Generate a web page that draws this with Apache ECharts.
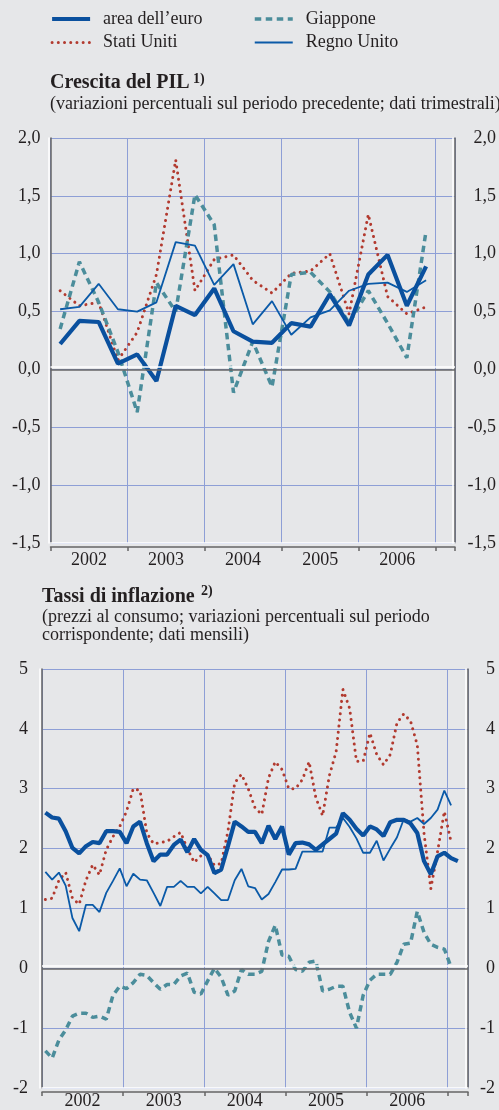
<!DOCTYPE html>
<html>
<head>
<meta charset="utf-8">
<script src="https://cdn.jsdelivr.net/npm/echarts@6/dist/echarts.min.js"></script>
<style>
html,body{margin:0;padding:0;background:#e6e7e9;}
#chart{width:499px;height:1110px;}
</style>
</head>
<body>
<div id="chart"></div>
<script>
var years = ['2002', '2003', '2004', '2005', '2006'];
var names = ['area dell\u2019euro', 'Stati Uniti', 'Giappone', 'Regno Unito'];

// crescita del PIL, dati trimestrali 2002T1 - 2006T4
var gdpEuro  = [0.22, 0.42, 0.41, 0.05, 0.13, -0.10, 0.55, 0.47, 0.70, 0.33, 0.24, 0.23, 0.40, 0.37, 0.65, 0.38, 0.82, 0.99, 0.55, 0.89];
var gdpUS    = [0.68, 0.55, 0.58, 0.08, 0.32, 0.82, 1.81, 0.68, 0.95, 0.99, 0.77, 0.66, 0.83, 0.85, 1.00, 0.48, 1.34, 0.63, 0.48, 0.54];
var gdpJapan = [0.35, 0.93, 0.58, 0.15, -0.37, 0.75, 0.50, 1.51, 1.25, -0.20, 0.24, -0.15, 0.82, 0.84, 0.67, 0.40, 0.68, 0.40, 0.10, 1.20];
var gdpUK    = [0.52, 0.54, 0.74, 0.52, 0.50, 0.58, 1.10, 1.07, 0.73, 0.91, 0.39, 0.59, 0.30, 0.45, 0.51, 0.68, 0.74, 0.75, 0.67, 0.77];

// inflazione, dati mensili da gen. 2002
var infEuro = [2.60, 2.52, 2.50, 2.29, 2.01, 1.92, 2.04, 2.11, 2.09, 2.29, 2.29, 2.28,
  2.09, 2.37, 2.45, 2.09, 1.79, 1.90, 1.90, 2.06, 2.15, 1.94, 2.16, 1.98,
  1.89, 1.59, 1.65, 2.04, 2.45, 2.37, 2.28, 2.28, 2.09, 2.38, 2.16, 2.37,
  1.90, 2.09, 2.10, 2.07, 1.98, 2.07, 2.16, 2.25, 2.59, 2.48, 2.33, 2.22,
  2.37, 2.32, 2.21, 2.44, 2.48, 2.48, 2.42, 2.26, 1.79, 1.57, 1.87, 1.93,
  1.84, 1.79];
var infUS = [1.15, 1.17, 1.47, 1.60, 1.17, 1.07, 1.47, 1.73, 1.56, 1.98, 2.20, 2.37,
  2.62, 3.00, 2.97, 2.26, 2.08, 2.10, 2.12, 2.20, 2.27, 2.00, 1.77, 1.88,
  1.90, 1.72, 1.75, 2.29, 3.10, 3.24, 3.00, 2.68, 2.57, 3.18, 3.45, 3.32,
  3.00, 3.00, 3.15, 3.45, 2.85, 2.55, 3.22, 3.62, 4.66, 4.34, 3.46, 3.46,
  3.93, 3.57, 3.40, 3.57, 4.10, 4.25, 4.13, 3.73, 2.25, 1.33, 1.95, 2.62,
  2.11];
var infJapan = [-1.38, -1.50, -1.20, -1.03, -0.80, -0.75, -0.75, -0.82, -0.80, -0.85, -0.45, -0.30,
  -0.34, -0.24, -0.10, -0.12, -0.24, -0.35, -0.27, -0.27, -0.13, -0.08, -0.40, -0.43,
  -0.21, 0.00, -0.15, -0.45, -0.38, -0.02, -0.10, -0.10, -0.05, 0.45, 0.72, 0.22,
  0.20, -0.02, -0.05, 0.10, 0.12, -0.38, -0.35, -0.30, -0.30, -0.74, -1.00, -0.45,
  -0.20, -0.10, -0.10, -0.10, 0.10, 0.40, 0.42, 0.95, 0.60, 0.40, 0.35, 0.32,
  0.02];
var infUK = [1.61, 1.48, 1.60, 1.38, 0.84, 0.62, 1.06, 1.06, 0.94, 1.26, 1.46, 1.67,
  1.37, 1.58, 1.48, 1.47, 1.26, 1.04, 1.36, 1.36, 1.46, 1.36, 1.36, 1.25,
  1.36, 1.25, 1.14, 1.14, 1.47, 1.66, 1.37, 1.34, 1.15, 1.24, 1.44, 1.65,
  1.65, 1.66, 1.95, 1.95, 1.95, 1.95, 2.35, 2.35, 2.51, 2.36, 2.17, 1.93,
  1.93, 2.13, 1.80, 2.00, 2.19, 2.49, 2.45, 2.51, 2.41, 2.51, 2.65, 2.97,
  2.72];

var FONT = '"Liberation Serif", "Times New Roman", serif';
var TXT = '#231f20';
var GRIDC = '#8e9fd6';
var AXC = '#666666';

var styles = [
  {color: '#0a509e', width: 4.2, type: 'solid'},
  {color: '#b23a2f', width: 3, type: [0.01, 6.2], cap: 'round'},
  {color: '#4b8d9b', width: 3.5, type: [6.5, 4.5]},
  {color: '#0a5aa8', width: 1.8, type: 'solid'}
];

// punto al centro del periodo
function pts(arr){
  return arr.map(function(v, i){ return [i + 0.5, v]; });
}

function line(idx, arr, g){
  return {
    name: names[idx], type: 'line', xAxisIndex: g * 2, yAxisIndex: g * 2,
    data: pts(arr), showSymbol: false, symbol: 'none',
    lineStyle: styles[idx], itemStyle: {color: styles[idx].color},
    z: 3
  };
}

function zeroLine(){
  return {
    silent: true, symbol: ['none', 'none'], label: {show: false},
    lineStyle: {color: AXC, width: 1.5, type: 'solid', shadowColor: '#ffffff', shadowOffsetY: -3},
    data: [{yAxis: 0}]
  };
}

function splitAxis(g, max, interval){
  return {
    type: 'value', gridIndex: g, min: 0, max: max, interval: interval, position: 'bottom',
    offset: 4,
    axisLine: {show: true, onZero: false, lineStyle: {color: AXC, width: 1.5, shadowColor: '#ffffff', shadowOffsetY: -4}},
    axisTick: {show: true, length: 4, lineStyle: {color: AXC, width: 1.5}},
    axisLabel: {show: false},
    splitLine: {show: true, lineStyle: {color: GRIDC, width: 1}}
  };
}

function labelAxis(g, max, step, margin){
  return {
    type: 'value', gridIndex: g, min: 0, max: max, interval: step / 2, position: 'bottom',
    axisLine: {show: false}, axisTick: {show: false}, splitLine: {show: false},
    axisLabel: {
      margin: margin, fontFamily: FONT, fontSize: 18, color: TXT,
      formatter: function(v){
        var k = (v - step / 2) / step;
        return (k >= 0 && k === Math.floor(k) && years[k]) ? years[k] : '';
      }
    }
  };
}

function yAx(g, pos, min, max, itv, margin, fmt){
  return {
    type: 'value', gridIndex: g, min: min, max: max, interval: itv, position: pos,
    axisLine: {show: true, onZero: false, lineStyle: {color: AXC, width: 1.5, shadowColor: '#ffffff', shadowOffsetX: -2}},
    axisTick: {show: false},
    axisLabel: {margin: margin, align: 'right', fontFamily: FONT, fontSize: 18, color: TXT, formatter: fmt},
    splitLine: {show: pos === 'left', lineStyle: {color: GRIDC, width: 1}}
  };
}

var fmtDec = function(v){ return v.toFixed(1).replace('.', ','); };
var fmtInt = function(v){ return String(Math.round(v)); };

var series = [
  line(1, gdpUS, 0), line(2, gdpJapan, 0), line(3, gdpUK, 0), line(0, gdpEuro, 0),
  line(1, infUS, 1), line(2, infJapan, 1), line(3, infUK, 1), line(0, infEuro, 1)
];
series[0].markLine = zeroLine();
series[4].markLine = zeroLine();

var legendText = {fontFamily: FONT, fontSize: 18, color: TXT, padding: [0, 0, 0, 8]};
function legend(idxs, left){
  return {
    data: idxs.map(function(i){ return {name: names[i], lineStyle: styles[i]}; }),
    orient: 'vertical', left: left, top: 10, padding: 0,
    itemWidth: 38, itemHeight: 12, itemGap: 5.5, selectedMode: false,
    itemStyle: {opacity: 0}, textStyle: legendText
  };
}

var option = {
  backgroundColor: '#e6e7e9',
  animation: false,
  legend: [legend([0, 1], 50), legend([2, 3], 253)],
  graphic: [
    {type: 'text', x: 50, y: 83, style: {text: 'Crescita del PIL', font: 'bold 20px ' + FONT, fill: TXT, verticalAlign: 'middle'}},
    {type: 'text', x: 193, y: 79, style: {text: '1)', font: 'bold 14px ' + FONT, fill: TXT, verticalAlign: 'middle'}},
    {type: 'text', x: 50, y: 104, style: {text: '(variazioni percentuali sul periodo precedente; dati trimestrali)', font: '18px ' + FONT, fill: TXT, verticalAlign: 'middle'}},
    {type: 'text', x: 42, y: 597, style: {text: 'Tassi di inflazione', font: 'bold 20px ' + FONT, fill: TXT, verticalAlign: 'middle'}},
    {type: 'text', x: 201, y: 591, style: {text: '2)', font: 'bold 14px ' + FONT, fill: TXT, verticalAlign: 'middle'}},
    {type: 'text', x: 42, y: 617, style: {text: '(prezzi al consumo; variazioni percentuali sul periodo', font: '18px ' + FONT, fill: TXT, verticalAlign: 'middle'}},
    {type: 'text', x: 42, y: 635, style: {text: 'corrispondente; dati mensili)', font: '18px ' + FONT, fill: TXT, verticalAlign: 'middle'}}
  ],
  grid: [
    {left: 50.5, top: 138, width: 407, height: 405},
    {left: 42, top: 669, width: 426, height: 420}
  ],
  xAxis: [
    splitAxis(0, 21, 4), labelAxis(0, 21, 4, 8),
    splitAxis(1, 63, 12), labelAxis(1, 63, 12, 4)
  ],
  yAxis: [
    yAx(0, 'left', -1.5, 2, 0.5, 10, fmtDec), yAx(0, 'right', -1.5, 2, 0.5, 41, fmtDec),
    yAx(1, 'left', -2, 5, 1, 14, fmtInt), yAx(1, 'right', -2, 5, 1, 27, fmtInt)
  ],
  series: series
};

var myChart = echarts.init(document.getElementById('chart'));
myChart.setOption(option);
</script>
</body>
</html>
